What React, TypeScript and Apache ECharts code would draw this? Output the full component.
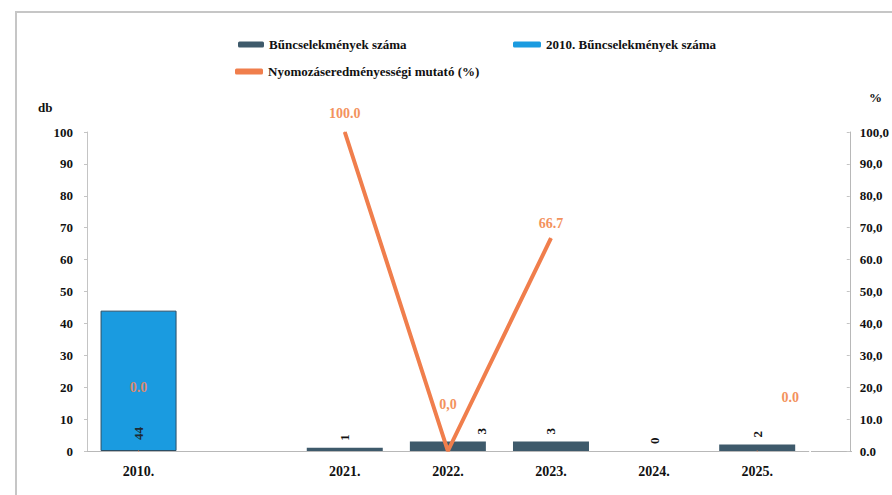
import React, { useEffect, useRef } from "react";
import * as echarts from "echarts";

const categories = ["2010.", "", "2021.", "2022.", "2023.", "2024.", "2025."];
const crimes = [null, null, 1, 3, 3, 0, 2];
const crimes2010 = [44, null, null, null, null, null, null];
const detectionRate = [0, null, 100, 0, 66.7, null, 0];
const rateLabels = ["0.0", "", "100.0", "0,0", "66.7", "", "0.0"];
const leftTickLabels = ["0", "10", "20", "30", "40", "50", "60", "70", "80", "90", "100"];
const rightTickLabels = ["0.0", "10.0", "20,0", "30,0", "40,0", "50,0", "60.0", "70,0", "80,0", "90,0", "100,0"];

const SERIES_CRIMES = "Bűncselekmények száma";
const SERIES_2010 = "2010. Bűncselekmények száma";
const SERIES_RATE = "Nyomozáseredményességi mutató (%)";

const FONT = "Liberation Serif";
const DARK = "#3e5a6b";
const BLUE = "#1a9be0";
const ORANGE = "#f07e4c";
const ORANGE_TXT = "#f3925d";

// label placement tweaks (style only)
const rateLabelStyle: Record<number, any> = {
  0: { offset: [0, -48], color: "#d88a70" },
  2: { offset: [0, -3] },
  3: { offset: [0, -31] },
  4: { offset: [0, 1] },
  6: { offset: [33, -38] },
};
const crimeLabelStyle: Record<number, any> = {
  3: { offset: [0, 34] },
};

export default function App() {
  const ref = useRef<HTMLDivElement>(null);
  useEffect(() => {
    if (!ref.current) return;
    const chart = echarts.init(ref.current, null, { renderer: "svg" });

    const rateData = detectionRate.map((v, i) => {
      const item: any = { value: v };
      if (rateLabelStyle[i]) item.label = rateLabelStyle[i];
      return item;
    });
    const crimeData = crimes.map((v, i) => {
      const item: any = { value: v };
      if (crimeLabelStyle[i]) item.label = crimeLabelStyle[i];
      return item;
    });

    const legendCommon = {
      icon: "roundRect",
      itemHeight: 6,
      itemStyle: { borderWidth: 0 },
      textStyle: { fontFamily: FONT, fontWeight: "bold", fontSize: 13, color: "#111" },
    };

    chart.setOption({
      animation: false,
      backgroundColor: "#fff",
      textStyle: { fontFamily: FONT },
      legend: [
        { ...legendCommon, data: [SERIES_CRIMES], left: 233, top: 33, itemWidth: 26 },
        { ...legendCommon, data: [SERIES_2010], left: 508, top: 33, itemWidth: 28 },
        { ...legendCommon, data: [SERIES_RATE], left: 230, top: 60, itemWidth: 28 },
      ],
      grid: { left: 87, right: 81, top: 132, bottom: 44, containLabel: false },
      xAxis: {
        type: "category",
        data: categories,
        axisLine: { show: true, lineStyle: { color: "#b8b8b8", width: 1 } },
        axisTick: { show: false },
        axisLabel: {
          fontFamily: FONT,
          fontWeight: "bold",
          fontSize: 14,
          color: "#111",
          margin: 13,
          interval: 0,
        },
      },
      yAxis: [
        {
          type: "value",
          min: 0,
          max: 100,
          interval: 10,
          splitLine: { show: false },
          axisLine: { show: true, lineStyle: { color: "#c4c4c4" } },
          axisTick: { show: true, length: 3, lineStyle: { color: "#c4c4c4" } },
          axisLabel: {
            fontFamily: FONT,
            fontWeight: "bold",
            fontSize: 13,
            color: "#111",
            margin: 14,
            formatter: (v: number) => leftTickLabels[Math.round(v / 10)] ?? "",
          },
        },
        {
          type: "value",
          min: 0,
          max: 100,
          interval: 10,
          position: "right",
          offset: 41,
          splitLine: { show: false },
          axisLine: { show: true, lineStyle: { color: "#b8b8b8" } },
          axisTick: { show: true, inside: true, length: 3, lineStyle: { color: "#c4c4c4" } },
          axisLabel: {
            fontFamily: FONT,
            fontWeight: "bold",
            fontSize: 13,
            color: "#111",
            margin: 10,
            formatter: (v: number) => rightTickLabels[Math.round(v / 10)] ?? "",
          },
        },
      ],
      series: [
        {
          name: SERIES_CRIMES,
          type: "bar",
          stack: "crimes",
          barWidth: 76,
          data: crimeData,
          itemStyle: { color: DARK },
          label: {
            show: true,
            position: "top",
            rotate: 90,
            align: "left",
            verticalAlign: "middle",
            distance: 7,
            fontFamily: FONT,
            fontWeight: "bold",
            fontSize: 13,
            color: "#111",
          },
        },
        {
          name: SERIES_2010,
          type: "bar",
          stack: "crimes",
          barWidth: 76,
          data: crimes2010,
          itemStyle: { color: BLUE, borderColor: "#2b4f66", borderWidth: 1 },
          label: {
            show: true,
            position: "insideBottom",
            rotate: 90,
            align: "left",
            verticalAlign: "middle",
            distance: 11,
            fontFamily: FONT,
            fontWeight: "bold",
            fontSize: 13,
            color: "#1d2a33",
          },
        },
        {
          name: SERIES_RATE,
          type: "line",
          yAxisIndex: 1,
          data: rateData,
          connectNulls: false,
          symbol: "circle",
          symbolSize: 1,
          showSymbol: true,
          itemStyle: { color: ORANGE },
          lineStyle: { color: ORANGE, width: 4 },
          label: {
            show: true,
            position: "top",
            distance: 8,
            fontFamily: FONT,
            fontWeight: "bold",
            fontSize: 14,
            color: ORANGE_TXT,
            formatter: (p: any) => rateLabels[p.dataIndex] ?? "",
          },
          z: 5,
        },
      ],
      graphic: [
        {
          type: "rect",
          shape: { x: 16, y: 12, width: 900, height: 500 },
          style: { fill: "none", stroke: "#c6c6c6", lineWidth: 2 },
          silent: true,
        },
        {
          type: "line",
          shape: { x1: 811, y1: 451.5, x2: 852, y2: 451.5 },
          style: { stroke: "#b8b8b8", lineWidth: 1 },
          silent: true,
        },
        {
          type: "text",
          left: 38,
          top: 101,
          style: { text: "db", font: `bold 13px ${FONT}`, fill: "#111" },
        },
        {
          type: "text",
          left: 869,
          top: 91,
          style: { text: "%", font: `bold 13px ${FONT}`, fill: "#111" },
        },
      ],
    });
    return () => chart.dispose();
  }, []);

  return (
    <div
      ref={ref}
      style={{ position: "absolute", left: 0, top: 0, width: 892, height: 495 }}
    />
  );
}
